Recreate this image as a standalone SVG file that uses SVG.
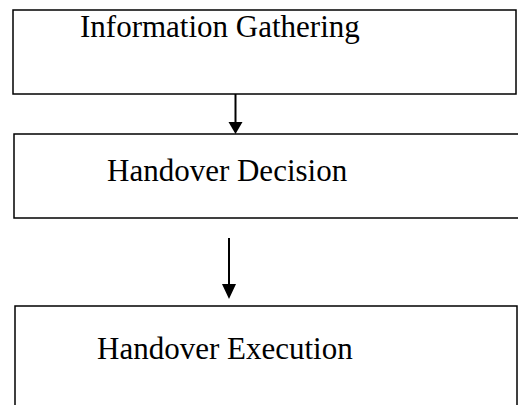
<svg xmlns="http://www.w3.org/2000/svg" width="518" height="405" viewBox="0 0 518 405">
<style>
.box{fill:#fff;stroke:#000;stroke-width:1.5}
.lbl{font-family:"Liberation Serif","Times New Roman",serif;font-size:31px;fill:#000}
.conn{stroke:#000;stroke-width:2;fill:none}
</style>
<defs>
<marker id="ah" markerWidth="8" markerHeight="8" refX="7" refY="4" orient="auto" markerUnits="userSpaceOnUse" viewBox="0 0 8 8">
<path d="M0,0 L8,4 L0,8 Z" fill="#000"/>
</marker>
</defs>
<rect width="518" height="405" fill="#fff"/>
<g id="node-info">
<rect class="box" x="13" y="10" width="503" height="84"/>
<text class="lbl" x="80" y="37">Information Gathering</text>
</g>
<g id="node-decision">
<rect class="box" x="14" y="134" width="510" height="84"/>
<text class="lbl" x="107" y="181">Handover Decision</text>
</g>
<g id="node-execution">
<rect class="box" x="15" y="306" width="502" height="110"/>
<text class="lbl" x="97" y="359">Handover Execution</text>
</g>
<g id="connectors">
<line class="conn" x1="235.5" y1="94" x2="235.5" y2="124"/>
<path d="M228.5,122 L242.5,122 L235.5,134 Z" fill="#000"/>
<line class="conn" x1="229" y1="238" x2="229" y2="286"/>
<path d="M222,284 L236,284 L229,299 Z" fill="#000"/>
</g>
</svg>
